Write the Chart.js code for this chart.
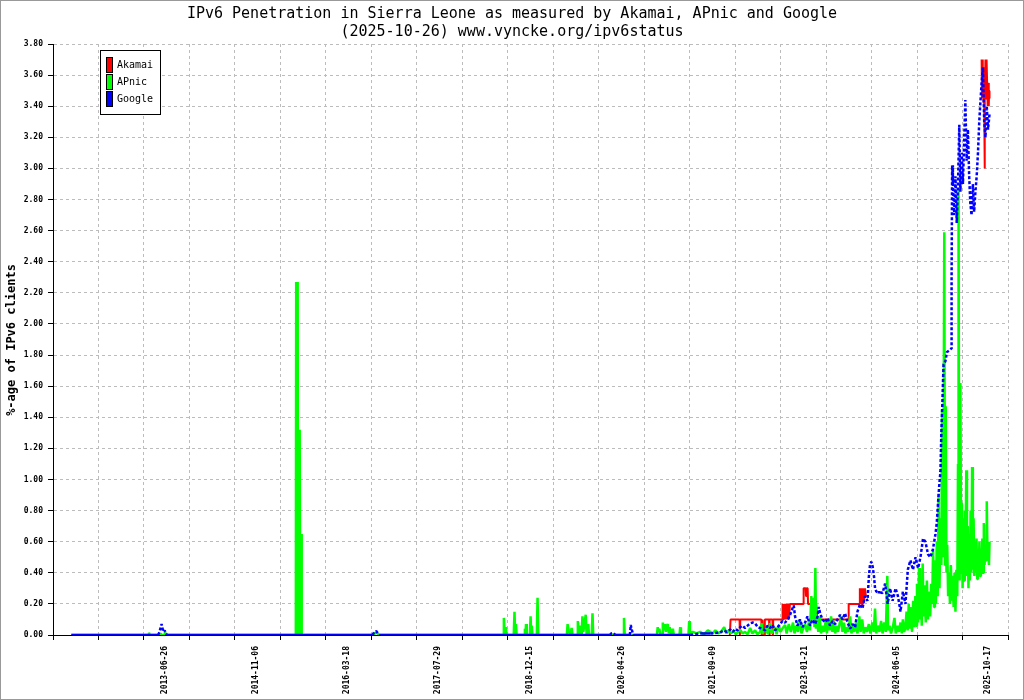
<!DOCTYPE html>
<html>
<head>
<meta charset="utf-8">
<title>IPv6 Penetration in Sierra Leone</title>
<script src="https://cdn.jsdelivr.net/npm/chart.js@4.4.1/dist/chart.umd.min.js"></script>
<style>
    html, body { margin: 0; padding: 0; background: #fff; }
    #wrap { width: 1024px; height: 700px; }
</style>
</head>
<body>
<div id="wrap"><canvas id="ipv6Chart" width="1024" height="700"></canvas></div>
<script>
const titleLines = [
    'IPv6 Penetration in Sierra Leone as measured by Akamai, APnic and Google',
    '(2025-10-26) www.vyncke.org/ipv6status',
];
const yAxisTitle = '%-age of IPv6 clients';
const xRange = ['2011-10-26', '2026-02-04'];
const xTickDates = ['2013-06-26', '2014-11-06', '2016-03-18', '2017-07-29', '2018-12-15',
    '2020-04-26', '2021-09-09', '2023-01-21', '2024-06-05', '2025-10-17'];
const yTicks = [0, 0.2, 0.4, 0.6, 0.8, 1.0, 1.2, 1.4, 1.6, 1.8, 2.0,
    2.2, 2.4, 2.6, 2.8, 3.0, 3.2, 3.4, 3.6, 3.8];

const akamaiDates = [
    '2021-12-08', '2021-12-12', '2022-01-30', '2022-02-01', '2022-02-03', '2022-05-29', '2022-05-31',
    '2022-06-04', '2022-06-08', '2022-06-14', '2022-06-17', '2022-07-10', '2022-07-12', '2022-07-14',
    '2022-07-29', '2022-07-31', '2022-08-02', '2022-09-20', '2022-09-22', '2022-09-25', '2022-09-28',
    '2022-10-02', '2022-10-06', '2022-10-10', '2022-10-14', '2022-10-18', '2022-10-23', '2022-10-27',
    '2022-11-01', '2023-01-13', '2023-01-15', '2023-01-26', '2023-01-28', '2023-01-31', '2023-02-06',
    '2023-02-08', '2023-02-25', '2023-02-28', '2023-03-04', '2023-03-09', '2023-03-14', '2023-03-19',
    '2023-03-24', '2023-04-01', '2023-09-16', '2023-09-18', '2023-11-15', '2023-11-18', '2023-11-22',
    '2023-11-26', '2023-11-30', '2023-12-05', '2023-12-10', '2023-12-16', '2023-12-21', '2024-01-01',
    '2025-09-10', '2025-09-13', '2025-09-15', '2025-09-17', '2025-09-19', '2025-09-21', '2025-09-23',
    '2025-09-25', '2025-09-27', '2025-09-29', '2025-10-01', '2025-10-04', '2025-10-07', '2025-10-10',
    '2025-10-13', '2025-10-16', '2025-10-19', '2025-10-22', '2025-10-24', '2025-10-26',
];
const akamaiValues = [
    0, 0.10, 0.10, 0, 0.10, 0.10, 0,
    0.10, 0, 0, 0.10, 0.10, 0, 0.10,
    0.10, 0, 0.10, 0.10, 0.20, 0.10, 0.20,
    0.10, 0.20, 0.10, 0.20, 0.10, 0.20, 0.10,
    0.20, 0.20, 0.30, 0.30, 0.25, 0.30, 0.30,
    0.20, 0.20, 0.10, 0.20, 0.10, 0.20, 0.10,
    0.20, 0.10, 0.10, 0.20, 0.20, 0.30, 0.20,
    0.30, 0.20, 0.30, 0.22, 0.30, 0.25, null,
    null, 3.70, 3.45, 3.70, 3.50, 3.65, 3.42,
    3.60, 3.40, 3.00, 3.45, 3.70, 3.45, 3.70,
    3.55, 3.40, 3.55, 3.40, 3.50, 3.45,
];

const apnicDates = [
    '2012-02-03', '2013-03-28', '2013-04-02', '2013-04-06', '2013-06-01', '2013-06-05', '2013-06-10',
    '2013-06-24', '2013-06-28', '2013-07-03', '2015-06-13', '2015-06-15', '2015-06-17', '2015-06-19',
    '2015-06-21', '2015-06-23', '2015-06-25', '2015-06-27', '2015-06-29', '2015-07-01', '2015-07-03',
    '2015-07-05', '2015-07-07', '2015-07-09', '2015-07-11', '2015-07-13', '2015-07-15',
    '2016-08-10', '2016-08-20', '2016-09-01', '2016-09-10', '2018-07-19',
    '2018-07-23', '2018-07-28', '2018-08-03', '2018-08-07', '2018-09-15', '2018-09-19', '2018-09-23',
    '2018-09-27', '2018-10-01', '2018-11-12', '2018-11-15', '2018-11-18', '2018-11-21', '2018-11-25',
    '2018-12-12', '2018-12-16', '2018-12-19', '2018-12-22', '2018-12-26', '2019-01-19', '2019-01-23',
    '2019-01-27', '2019-07-02', '2019-07-06', '2019-07-12', '2019-07-20', '2019-07-28', '2019-08-02',
    '2019-08-27', '2019-08-31', '2019-09-05', '2019-09-11', '2019-09-16', '2019-09-21', '2019-09-25',
    '2019-09-30', '2019-10-13', '2019-10-18', '2019-10-27', '2019-10-31', '2019-11-15', '2019-11-19',
    '2019-11-23', '2020-05-05', '2020-05-09', '2020-05-13', '2020-11-05', '2020-11-09', '2020-11-14',
    '2020-11-18', '2020-11-24', '2020-12-04', '2020-12-07', '2020-12-12', '2020-12-18', '2020-12-24',
    '2020-12-29', '2021-01-03', '2021-01-09', '2021-01-14', '2021-01-22', '2021-01-31', '2021-02-05',
    '2021-03-08', '2021-03-12', '2021-03-16', '2021-04-26', '2021-04-30', '2021-05-04', '2021-05-20',
    '2021-06-10', '2021-06-29', '2021-07-20', '2021-08-10', '2021-08-23', '2021-09-05', '2021-09-20',
    '2021-10-05', '2021-10-20', '2021-11-07', '2021-11-20', '2021-12-01', '2021-12-15', '2021-12-28',
    '2022-01-10', '2022-02-02', '2022-02-15', '2022-03-01', '2022-03-15', '2022-03-29', '2022-04-10',
    '2022-04-25', '2022-05-08', '2022-05-22', '2022-05-31', '2022-06-05', '2022-06-12', '2022-06-24',
    '2022-07-04', '2022-07-16', '2022-07-25', '2022-08-12', '2022-08-20', '2022-08-30', '2022-09-10',
    '2022-09-20', '2022-10-06', '2022-10-14', '2022-10-26', '2022-11-06', '2022-11-18', '2022-11-26',
    '2022-12-05', '2022-12-15', '2022-12-26', '2023-01-03', '2023-01-12', '2023-01-23', '2023-02-02',
    '2023-02-12', '2023-02-19', '2023-02-26', '2023-03-05', '2023-03-10', '2023-03-15', '2023-03-20',
    '2023-03-24', '2023-03-29', '2023-04-05', '2023-04-12', '2023-04-20', '2023-04-28', '2023-05-06',
    '2023-05-15', '2023-05-22', '2023-05-30', '2023-06-06', '2023-06-14', '2023-06-21', '2023-06-29',
    '2023-07-06', '2023-07-14', '2023-07-22', '2023-07-30', '2023-08-07', '2023-08-15', '2023-08-23',
    '2023-08-31', '2023-09-08', '2023-09-16', '2023-09-26', '2023-10-03', '2023-10-11', '2023-10-19',
    '2023-10-27', '2023-11-05', '2023-11-15', '2023-11-22', '2023-12-01', '2023-12-09', '2023-12-18',
    '2023-12-27', '2024-01-06', '2024-01-15', '2024-01-25', '2024-02-02', '2024-02-09', '2024-02-15',
    '2024-02-24', '2024-03-04', '2024-03-13', '2024-03-21', '2024-03-30', '2024-04-08', '2024-04-16',
    '2024-04-20', '2024-04-28', '2024-05-06', '2024-05-16', '2024-05-25', '2024-06-01', '2024-06-10',
    '2024-06-18', '2024-06-27', '2024-07-04', '2024-07-10', '2024-07-17', '2024-07-24', '2024-07-30',
    '2024-08-05', '2024-08-11', '2024-08-17', '2024-08-23', '2024-08-29', '2024-09-04', '2024-09-10',
    '2024-09-16', '2024-09-21', '2024-09-25', '2024-10-01', '2024-10-06', '2024-10-11', '2024-10-16',
    '2024-10-21', '2024-10-26', '2024-10-31', '2024-11-06', '2024-11-12', '2024-11-18', '2024-11-24',
    '2024-11-30', '2024-12-06', '2024-12-12', '2024-12-17', '2024-12-22', '2024-12-27', '2025-01-01',
    '2025-01-06', '2025-01-11', '2025-01-16', '2025-01-21', '2025-01-26', '2025-01-31', '2025-02-05',
    '2025-02-09', '2025-02-13', '2025-02-17', '2025-02-21', '2025-02-25', '2025-03-01', '2025-03-05',
    '2025-03-09', '2025-03-14', '2025-03-19', '2025-03-24', '2025-03-29', '2025-04-03', '2025-04-08',
    '2025-04-13', '2025-04-18', '2025-04-23', '2025-04-28', '2025-05-03', '2025-05-07', '2025-05-10',
    '2025-05-13', '2025-05-16', '2025-05-20', '2025-05-24', '2025-05-28', '2025-06-01', '2025-06-05',
    '2025-06-09', '2025-06-13', '2025-06-17', '2025-06-21', '2025-06-25', '2025-06-29', '2025-07-03',
    '2025-07-07', '2025-07-11', '2025-07-15', '2025-07-19', '2025-07-23', '2025-07-27', '2025-07-31',
    '2025-08-04', '2025-08-08', '2025-08-12', '2025-08-16', '2025-08-20', '2025-08-24', '2025-08-28',
    '2025-09-01', '2025-09-05', '2025-09-09', '2025-09-13', '2025-09-17', '2025-09-21', '2025-09-25',
    '2025-09-29', '2025-10-03', '2025-10-07', '2025-10-11', '2025-10-15', '2025-10-19', '2025-10-23',
    '2025-10-26',
];
const apnicValues = [
    0, 0, 0.015, 0, 0, 0.01, 0,
    0, 0.02, 0, 0, 2.27, 0, 2.27,
    0, 2.27, 0, 1.32, 0, 1.32, 0,
    1.32, 0, 0.65, 0, 0.65, 0,
    0, 0.015, 0.01, 0, 0,
    0.11, 0, 0.05, 0, 0, 0.15, 0,
    0.07, 0, 0, 0.04, 0, 0.07, 0,
    0, 0.12, 0, 0.06, 0, 0, 0.24,
    0, 0, 0.07, 0.03, 0, 0.045, 0,
    0, 0.09, 0, 0.06, 0, 0, 0.12,
    0.02, 0.13, 0, 0.07, 0, 0, 0.14,
    0, 0, 0.11, 0, 0, 0.05, 0.02,
    0.04, 0, 0, 0.08, 0.03, 0.07, 0.02,
    0.06, 0.07, 0.01, 0.05, 0, 0.04, 0,
    0, 0.05, 0, 0, 0.09, 0.01, 0.02,
    0.01, 0.02, 0.005, 0.03, 0.02, 0.01, 0.03,
    0.01, 0.02, 0.05, 0.01, 0.03, 0.01, 0.025,
    0.005, 0.035, 0.01, 0.02, 0.005, 0.045, 0.01,
    0.03, 0.005, 0.02, 0.075, 0.005, 0.03, 0.04,
    0.005, 0.075, 0.01, 0.05, 0.005, 0.06, 0.02,
    0.04, 0.065, 0.01, 0.07, 0.02, 0.08, 0.01,
    0.06, 0.02, 0.1, 0.01, 0.04, 0.07, 0.02,
    0.08, 0.03, 0.25, 0.1, 0.24, 0.05, 0.43,
    0.04, 0.12, 0.02, 0.12, 0.01, 0.06, 0.02,
    0.085, 0.01, 0.1, 0.03, 0.12, 0.02, 0.09,
    0.01, 0.06, 0.02, 0.07, 0.12, 0.02, 0.08,
    0.01, 0.05, 0.02, 0.12, 0.01, 0.06, 0.02,
    0.08, 0.01, 0.12, 0.02, 0.1, 0.01, 0.05,
    0.02, 0.07, 0.01, 0.08, 0.02, 0.17, 0.01,
    0.06, 0.02, 0.09, 0.01, 0.08, 0.02, 0.38,
    0.03, 0.06, 0.01, 0.05, 0.11, 0.01, 0.06,
    0.02, 0.08, 0.01, 0.1, 0.02, 0.05, 0.15,
    0.03, 0.2, 0.04, 0.18, 0.02, 0.22, 0.05,
    0.25, 0.06, 0.33, 0.08, 0.43, 0.1, 0.3,
    0.06, 0.46, 0.12, 0.32, 0.08, 0.35, 0.1,
    0.28, 0.12, 0.33, 0.2, 0.55, 0.18, 0.48,
    0.2, 0.6, 0.25, 0.91, 0.3, 0.75, 0.45,
    1.45, 0.5, 1.1, 2.59, 0.45, 1.47, 0.4,
    0.58, 0.25, 0.4, 0.2, 0.45, 0.22, 0.38,
    0.18, 0.4, 0.15, 0.42, 0.25, 1.1, 2.86,
    0.7, 0.35, 1.62, 0.4, 0.85, 0.3, 0.75,
    0.35, 0.8, 0.45, 1.06, 0.38, 0.7, 0.3,
    0.65, 0.35, 0.8, 0.4, 1.08, 0.42, 0.75,
    0.38, 0.6, 0.4, 0.62, 0.36, 0.55, 0.42,
    0.6, 0.38, 0.55, 0.42, 0.62, 0.4, 0.72,
    0.45, 0.58, 0.48, 0.86, 0.5, 0.58, 0.45,
    0.6,
];

const googleDates = [
    '2012-02-03', '2013-05-22', '2013-05-30', '2013-06-05', '2013-06-10', '2013-06-15', '2013-06-21',
    '2013-06-27', '2013-07-03', '2013-07-10', '2016-08-05', '2016-08-15', '2016-08-25', '2016-09-04',
    '2016-09-12', '2020-02-22', '2020-03-01', '2020-03-12', '2020-03-22', '2020-06-10', '2020-06-15',
    '2020-06-19', '2020-06-24', '2020-06-29', '2021-05-06', '2021-06-29', '2021-08-23', '2021-10-16',
    '2021-11-05', '2021-11-20', '2021-12-10', '2021-12-25', '2022-01-06', '2022-01-20', '2022-02-02',
    '2022-02-15', '2022-03-01', '2022-03-15', '2022-03-29', '2022-04-12', '2022-04-25', '2022-05-10',
    '2022-05-22', '2022-06-05', '2022-06-18', '2022-07-02', '2022-07-16', '2022-07-30', '2022-08-12',
    '2022-08-26', '2022-09-08', '2022-09-22', '2022-10-06', '2022-10-20', '2022-11-02', '2022-11-15',
    '2022-11-22', '2022-11-29', '2022-12-12', '2022-12-26', '2023-01-09', '2023-01-23', '2023-02-05',
    '2023-02-19', '2023-03-05', '2023-03-19', '2023-04-01', '2023-04-08', '2023-04-15', '2023-04-28',
    '2023-05-12', '2023-05-25', '2023-06-08', '2023-06-22', '2023-07-06', '2023-07-19', '2023-08-02',
    '2023-08-15', '2023-08-29', '2023-09-12', '2023-09-26', '2023-10-09', '2023-10-23', '2023-11-05',
    '2023-11-19', '2023-12-02', '2023-12-16', '2023-12-30', '2024-01-06', '2024-01-13', '2024-01-20',
    '2024-01-27', '2024-02-03', '2024-02-09', '2024-02-16', '2024-02-23', '2024-03-07', '2024-03-21',
    '2024-04-04', '2024-04-18', '2024-05-01', '2024-05-15', '2024-05-31', '2024-06-13', '2024-06-27',
    '2024-07-10', '2024-07-24', '2024-08-06', '2024-08-20', '2024-09-03', '2024-09-17', '2024-10-01',
    '2024-10-14', '2024-10-28', '2024-11-10', '2024-11-24', '2024-12-07', '2024-12-21', '2025-01-04',
    '2025-01-11', '2025-01-18', '2025-01-25', '2025-01-31', '2025-02-05', '2025-02-10', '2025-02-17',
    '2025-02-27', '2025-03-08', '2025-03-20', '2025-03-30', '2025-04-02', '2025-04-05', '2025-04-09',
    '2025-04-16', '2025-04-23', '2025-04-30', '2025-05-07', '2025-05-14', '2025-05-20', '2025-05-27',
    '2025-06-03', '2025-06-10', '2025-06-16', '2025-06-23', '2025-06-30', '2025-07-07', '2025-07-13',
    '2025-07-20', '2025-07-27', '2025-08-03', '2025-08-10', '2025-08-17', '2025-08-24', '2025-08-31',
    '2025-09-06', '2025-09-13', '2025-09-20', '2025-09-27', '2025-10-04', '2025-10-11', '2025-10-18',
    '2025-10-26',
];
const googleValues = [
    0, 0, 0.02, 0.05, 0.07, 0.04, 0.02,
    0.03, 0.01, 0, 0, 0.02, 0.025, 0.01,
    0, 0, 0.01, 0.015, 0, 0, 0.065,
    0.04, 0.02, 0, 0, 0.01, 0.01, 0.015,
    0.03, 0.02, 0.035, 0.02, 0.04, 0.03, 0.05,
    0.06, 0.045, 0.06, 0.075, 0.08, 0.075, 0.05,
    0.045, 0.04, 0.03, 0.06, 0.045, 0.065, 0.03,
    0.05, 0.07, 0.09, 0.08, 0.1, 0.13, 0.17,
    0.19, 0.12, 0.06, 0.1, 0.05, 0.08, 0.12,
    0.06, 0.1, 0.07, 0.12, 0.18, 0.14, 0.1,
    0.08, 0.11, 0.06, 0.09, 0.07, 0.1, 0.13,
    0.1, 0.14, 0.08, 0.04, 0.07, 0.05, 0.15,
    0.2, 0.17, 0.25, 0.22, 0.37, 0.46, 0.47,
    0.44, 0.38, 0.3, 0.28, 0.275, 0.275, 0.27,
    0.33, 0.2, 0.3, 0.22, 0.3, 0.25, 0.15,
    0.28, 0.2, 0.42, 0.48, 0.42, 0.5, 0.43,
    0.5, 0.62, 0.6, 0.52, 0.5, 0.55, 0.65,
    0.72, 0.85, 0.97, 1.05, 1.3, 1.47, 1.74,
    1.76, 1.82, 1.83, 1.84, 2.3, 3.02, 2.9,
    2.7, 2.95, 2.65, 2.9, 3.28, 2.85, 3.1,
    2.9, 3.2, 3.44, 3.05, 3.25, 2.95, 2.78,
    2.7, 2.9, 2.72, 2.85, 2.95, 3.1, 3.3,
    3.42, 3.55, 3.65, 3.3, 3.2, 3.4, 3.25,
    3.35,
];

const mono = '"DejaVu Sans Mono", "Liberation Mono", monospace';
const gridColor = '#bcbcbc';
const gridIntervals = 21;

const dayNum = (s) => Date.UTC(+s.slice(0, 4), +s.slice(5, 7) - 1, +s.slice(8, 10)) / 86400000;
const dayStr = (d) => new Date(d * 86400000).toISOString().slice(0, 10);
const toPoints = (dates, values) => dates.map((d, i) => ({ x: dayNum(d), y: values[i] }));
const labelDays = new Set(xTickDates.map(dayNum));

const decorations = {
    id: 'decorations',
    afterDraw(chart) {
        const ctx = chart.ctx;
        ctx.save();
        ctx.fillStyle = '#000';
        ctx.textAlign = 'center';
        ctx.textBaseline = 'middle';
        ctx.font = `15px ${mono}`;
        ctx.fillText(titleLines[0], 512, 14);
        ctx.fillText(titleLines[1], 512, 32);

        ctx.save();
        ctx.translate(12, 340);
        ctx.rotate(-Math.PI / 2);
        ctx.font = `bold 12px ${mono}`;
        ctx.fillText(yAxisTitle, 0, 0);
        ctx.restore();

        // legend box, top left inside the plot
        ctx.lineWidth = 1;
        ctx.strokeStyle = '#000';
        ctx.fillStyle = '#fff';
        ctx.fillRect(101, 51, 59, 63);
        ctx.strokeRect(100.5, 50.5, 60, 64);
        ctx.font = `10px ${mono}`;
        ctx.textAlign = 'left';
        chart.data.datasets.forEach((ds, i) => {
            const y = 57 + i * 17;
            ctx.fillStyle = ds.borderColor;
            ctx.fillRect(106, y, 6, 15);
            ctx.strokeRect(106.5, y + 0.5, 6, 15);
            ctx.fillStyle = '#000';
            ctx.fillText(ds.label, 117, y + 8);
        });

        ctx.strokeStyle = '#999';
        ctx.strokeRect(0.5, 0.5, 1023, 699);
        ctx.restore();
    },
};

new Chart(document.getElementById('ipv6Chart'), {
    type: 'line',
    data: {
        datasets: [
            {
                label: 'Akamai',
                data: toPoints(akamaiDates, akamaiValues),
                borderColor: '#ff0000',
                backgroundColor: '#ff0000',
                borderWidth: 2,
                pointRadius: 0,
                spanGaps: false,
                borderJoinStyle: 'bevel',
                order: 2,
            },
            {
                label: 'APnic',
                data: toPoints(apnicDates, apnicValues),
                borderColor: '#00ff00',
                backgroundColor: '#00ff00',
                borderWidth: 2.5,
                pointRadius: 0,
                borderJoinStyle: 'bevel',
                order: 1,
            },
            {
                label: 'Google',
                data: toPoints(googleDates, googleValues),
                borderColor: '#0000ff',
                backgroundColor: '#0000ff',
                borderWidth: 2.5,
                pointRadius: 0,
                borderJoinStyle: 'bevel',
                order: 0,
                segment: {
                    borderDash: (c) => (Math.abs(c.p0.parsed.y - c.p1.parsed.y) > 0.001 ? [3, 2] : undefined),
                },
            },
        ],
    },
    options: {
        responsive: false,
        devicePixelRatio: 1,
        animation: false,
        layout: { padding: { top: 44, right: 16, left: 0, bottom: 0 } },
        plugins: {
            legend: { display: false },
            tooltip: { enabled: false },
            title: { display: false },
        },
        scales: {
            x: {
                type: 'linear',
                min: dayNum(xRange[0]),
                max: dayNum(xRange[1]),
                afterBuildTicks: (scale) => {
                    const step = (scale.max - scale.min) / gridIntervals;
                    const ticks = [];
                    for (let k = 0; k <= gridIntervals; k++) ticks.push({ value: scale.min + k * step });
                    labelDays.forEach((v) => ticks.push({ value: v }));
                    ticks.sort((a, b) => a.value - b.value);
                    scale.ticks = ticks;
                },
                afterFit: (scale) => { scale.height = 65; },
                ticks: {
                    autoSkip: false,
                    maxRotation: 90,
                    minRotation: 90,
                    padding: 6,
                    color: '#000',
                    font: { family: mono, size: 8, weight: 'bold' },
                    callback: (v) => (labelDays.has(v) ? dayStr(v) : ''),
                },
                grid: {
                    color: (c) => (c.tick && labelDays.has(c.tick.value) ? 'rgba(0,0,0,0)' : gridColor),
                    tickColor: (c) => (c.tick && labelDays.has(c.tick.value) ? 'rgba(0,0,0,0)' : '#000'),
                    tickLength: 5,
                    lineWidth: 1,
                },
                border: { color: '#000', width: 1, dash: [3, 3] },
            },
            y: {
                min: 0,
                max: 3.8,
                afterBuildTicks: (scale) => { scale.ticks = yTicks.map((v) => ({ value: v })); },
                afterFit: (scale) => { scale.width = 53; },
                ticks: {
                    padding: 5,
                    color: '#000',
                    font: { family: mono, size: 8, weight: 'bold' },
                    callback: (v) => v.toFixed(2),
                },
                grid: {
                    color: gridColor,
                    tickColor: '#000',
                    tickLength: 5,
                    lineWidth: 1,
                },
                border: { color: '#000', width: 1, dash: [3, 3] },
            },
        },
    },
    plugins: [decorations],
});
</script>
</body>
</html>
